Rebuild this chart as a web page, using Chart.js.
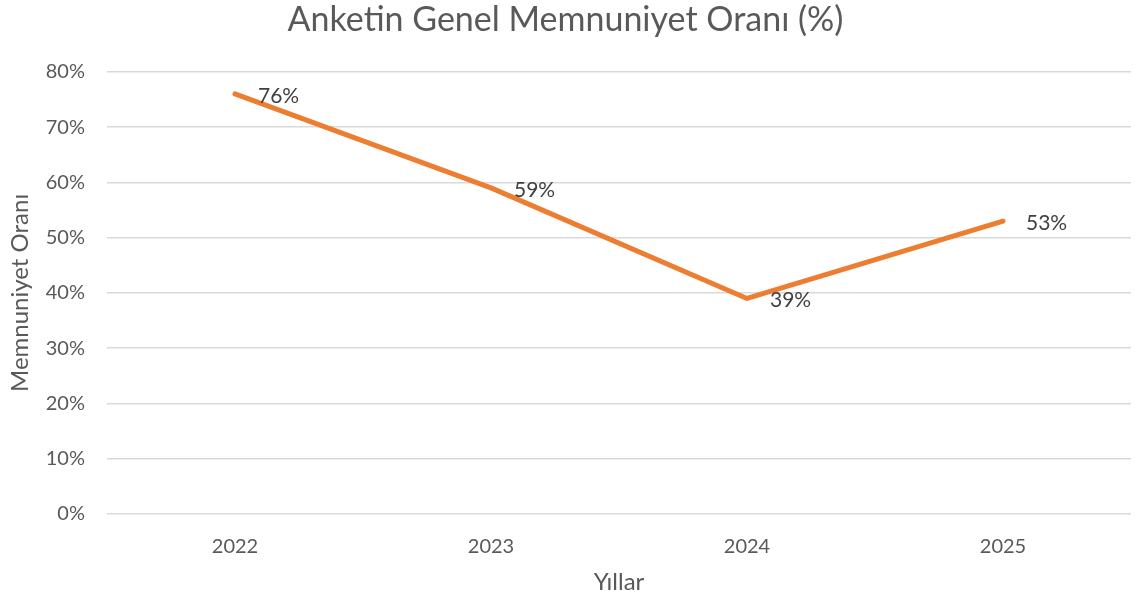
<!DOCTYPE html>
<html>
<head>
<meta charset="utf-8">
<script src="https://cdn.jsdelivr.net/npm/chart.js@4/dist/chart.umd.min.js"></script>
<style>
  html, body { margin: 0; padding: 0; background: #fff; }
  #wrap { width: 1140px; height: 601px; }
</style>
</head>
<body>
<div id="wrap"><canvas id="satisfactionChart" width="1140" height="601"></canvas></div>
<script>
// Chart data
const years = ['2022', '2023', '2024', '2025'];
const satisfaction = [76, 59, 39, 53];
const yTicks = [0, 10, 20, 30, 40, 50, 60, 70, 80];

const FONT = "Lato, 'Open Sans', 'Liberation Sans', sans-serif";
const TEXT = '#595959';

// Draw value labels to the right of each point
const valueLabels = {
    id: 'valueLabels',
    afterDatasetsDraw(chart) {
        const ctx = chart.ctx;
        const meta = chart.getDatasetMeta(0);
        ctx.save();
        ctx.font = '21px ' + FONT;
        ctx.fillStyle = '#404040';
        ctx.textAlign = 'left';
        ctx.textBaseline = 'middle';
        meta.data.forEach((pt, i) => {
            ctx.fillText(satisfaction[i] + '%', pt.x + 23, pt.y + 2);
        });
        ctx.restore();
    }
};

new Chart(document.getElementById('satisfactionChart'), {
    type: 'line',
    data: {
        labels: years,
        datasets: [{
            data: satisfaction,
            borderColor: '#ED7D31',
            borderWidth: 5,
            pointRadius: 0,
            borderCapStyle: 'round',
            borderJoinStyle: 'round',
            tension: 0
        }]
    },
    options: {
        responsive: false,
        animation: false,
        layout: { padding: { left: 0, right: 9, top: 0, bottom: 0 } },
        plugins: {
            legend: { display: false },
            tooltip: { enabled: false },
            title: {
                display: true,
                text: 'Anketin Genel Memnuniyet Oranı (%)',
                color: TEXT,
                font: { family: FONT, size: 34, weight: 'normal' },
                padding: { top: 0, bottom: 31 }
            }
        },
        scales: {
            x: {
                offset: true,
                grid: { display: false },
                border: { display: false },
                ticks: { color: TEXT, font: { family: FONT, size: 20 }, padding: 13 },
                title: {
                    display: true,
                    text: 'Yıllar',
                    color: TEXT,
                    font: { family: FONT, size: 24 },
                    padding: { top: 8 }
                },
                afterFit: s => { s.height = 87; }
            },
            y: {
                min: 0,
                max: 80,
                afterBuildTicks: s => { s.ticks = yTicks.map(v => ({ value: v })); },
                grid: { color: '#D9D9D9', lineWidth: 1.5, drawTicks: false },
                border: { display: false },
                ticks: {
                    color: TEXT,
                    font: { family: FONT, size: 20 },
                    padding: 22,
                    callback: v => v + '%'
                },
                title: {
                    display: true,
                    text: 'Memnuniyet Oranı',
                    color: TEXT,
                    font: { family: FONT, size: 24 },
                    padding: { top: 6, bottom: 4 }
                },
                afterFit: s => { s.width = 107; }
            }
        }
    },
    plugins: [valueLabels]
});
</script>
</body>
</html>
